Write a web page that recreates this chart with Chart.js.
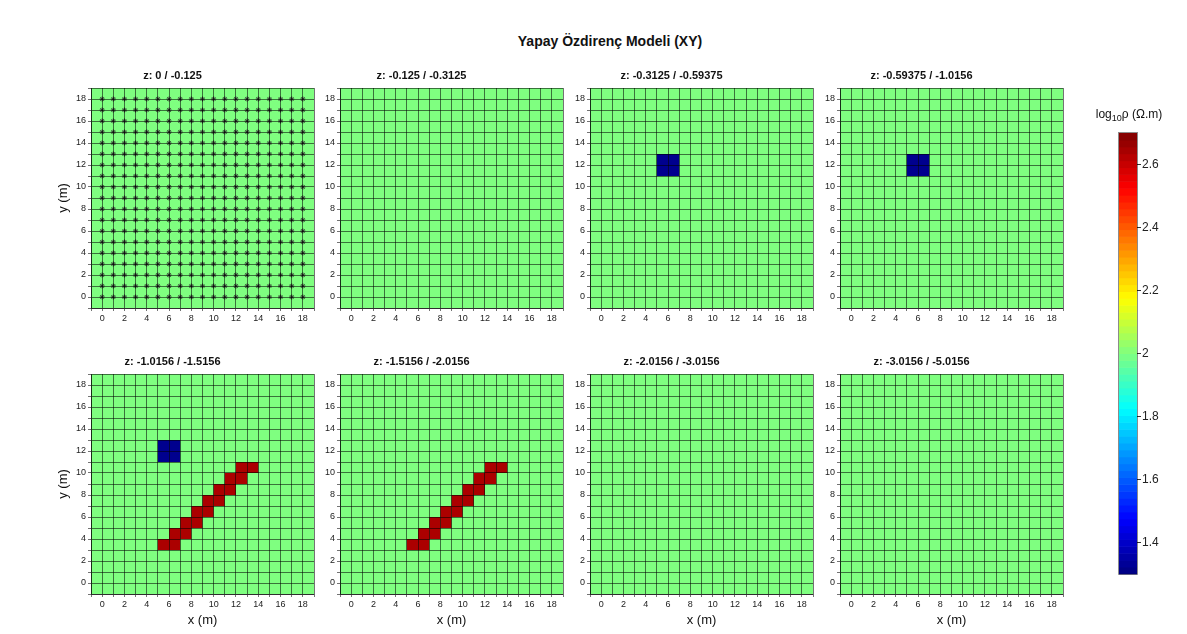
<!DOCTYPE html>
<html>
<head>
<meta charset="utf-8">
<script src="https://cdn.jsdelivr.net/npm/chart.js@4.4.1/dist/chart.umd.min.js"></script>
<style>
    body { margin: 0; background: #fff; width: 1187px; height: 634px; position: relative; overflow: hidden; font-family: "Liberation Sans", Arial, sans-serif; }
    #title { position: absolute; left: 410px; top: 32px; width: 400px; text-align: center; font-weight: bold; font-size: 14px; line-height: 18px; color: #111; }
    canvas { position: absolute; }
</style>
</head>
<body>
<div id="title">Yapay Özdirenç Modeli (XY)</div>
<div id="panels"></div>
<canvas id="colorbar" width="100" height="482" style="left:1079px;top:100px"></canvas>
<script>
const panelTitles = [
    'z: 0 / -0.125', 'z: -0.125 / -0.3125', 'z: -0.3125 / -0.59375', 'z: -0.59375 / -1.0156',
    'z: -1.0156 / -1.5156', 'z: -1.5156 / -2.0156', 'z: -2.0156 / -3.0156', 'z: -3.0156 / -5.0156'
];
const gridTicks = [-1, 0, 1, 2, 3, 4, 5, 6, 7, 8, 9, 10, 11, 12, 13, 14, 15, 16, 17, 18, 19];
const electrodeX = [0, 1, 2, 3, 4, 5, 6, 7, 8, 9, 10, 11, 12, 13, 14, 15, 16, 17, 18];
const electrodeY = [0, 1, 2, 3, 4, 5, 6, 7, 8, 9, 10, 11, 12, 13, 14, 15, 16, 17, 18];
const backgroundValue = 2.0;
const conductiveValue = 1.32;
const resistiveValue = 2.64;
// lower-left corners of 1 m cells
const conductiveCells = [[5, 11], [6, 11], [5, 12], [6, 12]];
const resistiveCells = [
    [5, 3], [6, 3], [6, 4], [7, 4], [7, 5], [8, 5], [8, 6], [9, 6],
    [9, 7], [10, 7], [10, 8], [11, 8], [11, 9], [12, 9], [12, 10], [13, 10]
];
const panelsWithConductive = [2, 3, 4];
const panelsWithResistive = [4, 5];
const colorbarTicks = [1.4, 1.6, 1.8, 2, 2.2, 2.4, 2.6];
const colorbarMin = 1.3;
const colorbarMax = 2.7;
const colorbarLevels = 64;

const FONT = "'Liberation Sans', Arial, sans-serif";
const plotLefts = [91, 340, 590, 840];
const plotTops = [88, 374];

function jet(v) {
    const t = (v - colorbarMin) / (colorbarMax - colorbarMin);
    const c = x => Math.round(255 * Math.max(0, Math.min(1, x)));
    return `rgb(${c(Math.min(4 * t - 1.5, -4 * t + 4.5))},${c(Math.min(4 * t - 0.5, -4 * t + 3.5))},${c(Math.min(4 * t + 0.5, -4 * t + 2.5))})`;
}

function makeCellPlugin(cells) {
    return {
        id: 'cells',
        beforeDatasetsDraw(chart) {
            const { ctx, scales: { x, y } } = chart;
            const rect = (x0, x1, y0, y1, color) => {
                const px0 = x.getPixelForValue(x0), px1 = x.getPixelForValue(x1);
                const py0 = y.getPixelForValue(y0), py1 = y.getPixelForValue(y1);
                ctx.fillStyle = color;
                ctx.fillRect(px0, py1, px1 - px0, py0 - py1);
            };
            ctx.save();
            rect(x.min, x.max, y.min, y.max, jet(backgroundValue));
            cells.forEach(c => rect(c.x, c.x + 1, c.y, c.y + 1, jet(c.v)));
            ctx.restore();
        }
    };
}

const electrodePoints = [];
electrodeX.forEach(x => electrodeY.forEach(y => electrodePoints.push({ x, y })));

const setTicks = axis => { axis.ticks = gridTicks.map(v => ({ value: v })); };
const evenLabel = v => (v >= 0 && v <= 18 && v % 2 === 0) ? v : '';

panelTitles.forEach((title, i) => {
    const row = Math.floor(i / 4), col = i % 4;
    const canvas = document.createElement('canvas');
    canvas.width = 289;
    canvas.height = 285;
    canvas.style.left = (plotLefts[col] - 60) + 'px';
    canvas.style.top = (plotTops[row] - 25) + 'px';
    document.getElementById('panels').appendChild(canvas);

    const cells = [];
    if (panelsWithConductive.includes(i)) conductiveCells.forEach(([x, y]) => cells.push({ x, y, v: conductiveValue }));
    if (panelsWithResistive.includes(i)) resistiveCells.forEach(([x, y]) => cells.push({ x, y, v: resistiveValue }));

    const grid = { color: 'rgba(0,0,0,0.55)', lineWidth: 1, tickLength: 3, z: 1 };
    const ticks = { callback: evenLabel, autoSkip: false, maxRotation: 0, padding: 2, color: '#222', font: { size: 9, family: FONT } };

    new Chart(canvas, {
        type: 'scatter',
        data: {
            datasets: [{
                data: i === 0 ? electrodePoints : [],
                pointStyle: 'star',
                pointRadius: 2.5,
                borderColor: '#333',
                backgroundColor: '#333',
                borderWidth: 1
            }]
        },
        options: {
            responsive: false,
            animation: false,
            events: [],
            layout: { padding: { left: 0, right: 6, top: 0, bottom: 0 } },
            plugins: {
                legend: { display: false },
                tooltip: { enabled: false },
                title: {
                    display: true,
                    text: title,
                    color: '#111',
                    font: { size: 11, weight: 'bold', family: FONT, lineHeight: '13px' },
                    padding: { top: 6, bottom: 6 }
                }
            },
            scales: {
                x: {
                    type: 'linear', min: -1, max: 19,
                    afterBuildTicks: setTicks,
                    afterFit: s => { s.height = 40; },
                    ticks: ticks,
                    grid: grid,
                    border: { color: 'rgba(0,0,0,0.6)', z: 1 },
                    title: {
                        display: row === 1, text: 'x (m)', color: '#111',
                        font: { size: 13, family: FONT, lineHeight: '16px' },
                        padding: { top: 0, bottom: 6 }
                    }
                },
                y: {
                    type: 'linear', min: -1, max: 19,
                    afterBuildTicks: setTicks,
                    afterFit: s => { s.width = 60; },
                    ticks: ticks,
                    grid: grid,
                    border: { color: 'rgba(0,0,0,0.6)', z: 1 },
                    title: {
                        display: col === 0, text: 'y (m)', color: '#111',
                        font: { size: 13, family: FONT, lineHeight: '16px' },
                        padding: { top: 24, bottom: 0 }
                    }
                }
            }
        },
        plugins: [makeCellPlugin(cells)]
    });
});

const colorbarPlugin = {
    id: 'colorbarBands',
    beforeDatasetsDraw(chart) {
        const { ctx, chartArea: a, scales: { y } } = chart;
        ctx.save();
        for (let i = 0; i < colorbarLevels; i++) {
            const v0 = colorbarMin + (colorbarMax - colorbarMin) * i / colorbarLevels;
            const v1 = colorbarMin + (colorbarMax - colorbarMin) * (i + 1) / colorbarLevels;
            const p0 = y.getPixelForValue(v0), p1 = y.getPixelForValue(v1);
            ctx.fillStyle = jet((v0 + v1) / 2);
            ctx.fillRect(a.left, p1, a.right - a.left, p0 - p1 + 0.6);
        }
        ctx.strokeStyle = 'rgba(0,0,0,0.45)';
        ctx.lineWidth = 1;
        ctx.strokeRect(a.left - 0.5, a.top - 0.5, a.right - a.left + 1, a.bottom - a.top + 1);
        ctx.restore();
    },
    afterDraw(chart) {
        const ctx = chart.ctx;
        const parts = [
            { t: 'log', f: `12px ${FONT}`, dy: 0 },
            { t: '10', f: `9px ${FONT}`, dy: 4 },
            { t: 'ρ (Ω.m)', f: `12px ${FONT}`, dy: 0 }
        ];
        ctx.save();
        ctx.fillStyle = '#111';
        ctx.textBaseline = 'middle';
        let total = 0;
        parts.forEach(p => { ctx.font = p.f; p.w = ctx.measureText(p.t).width; total += p.w; });
        let x = 50 - total / 2;
        parts.forEach(p => { ctx.font = p.f; ctx.fillText(p.t, x, 15 + p.dy); x += p.w; });
        ctx.restore();
    }
};

new Chart(document.getElementById('colorbar'), {
    type: 'scatter',
    data: { datasets: [] },
    options: {
        responsive: false,
        animation: false,
        events: [],
        layout: { padding: { left: 40, right: 0, top: 33, bottom: 5 } },
        plugins: { legend: { display: false }, tooltip: { enabled: false } },
        scales: {
            x: { display: false, min: 0, max: 1 },
            y: {
                position: 'right', min: colorbarMin, max: colorbarMax,
                afterBuildTicks: axis => { axis.ticks = colorbarTicks.map(v => ({ value: v })); },
                afterFit: s => { s.width = 42; },
                ticks: { padding: 1, color: '#222', font: { size: 12, family: FONT }, callback: v => String(Math.round(v * 10) / 10) },
                grid: { drawOnChartArea: false, tickLength: 4, color: '#333' },
                border: { display: false }
            }
        }
    },
    plugins: [colorbarPlugin]
});
</script>
</body>
</html>
